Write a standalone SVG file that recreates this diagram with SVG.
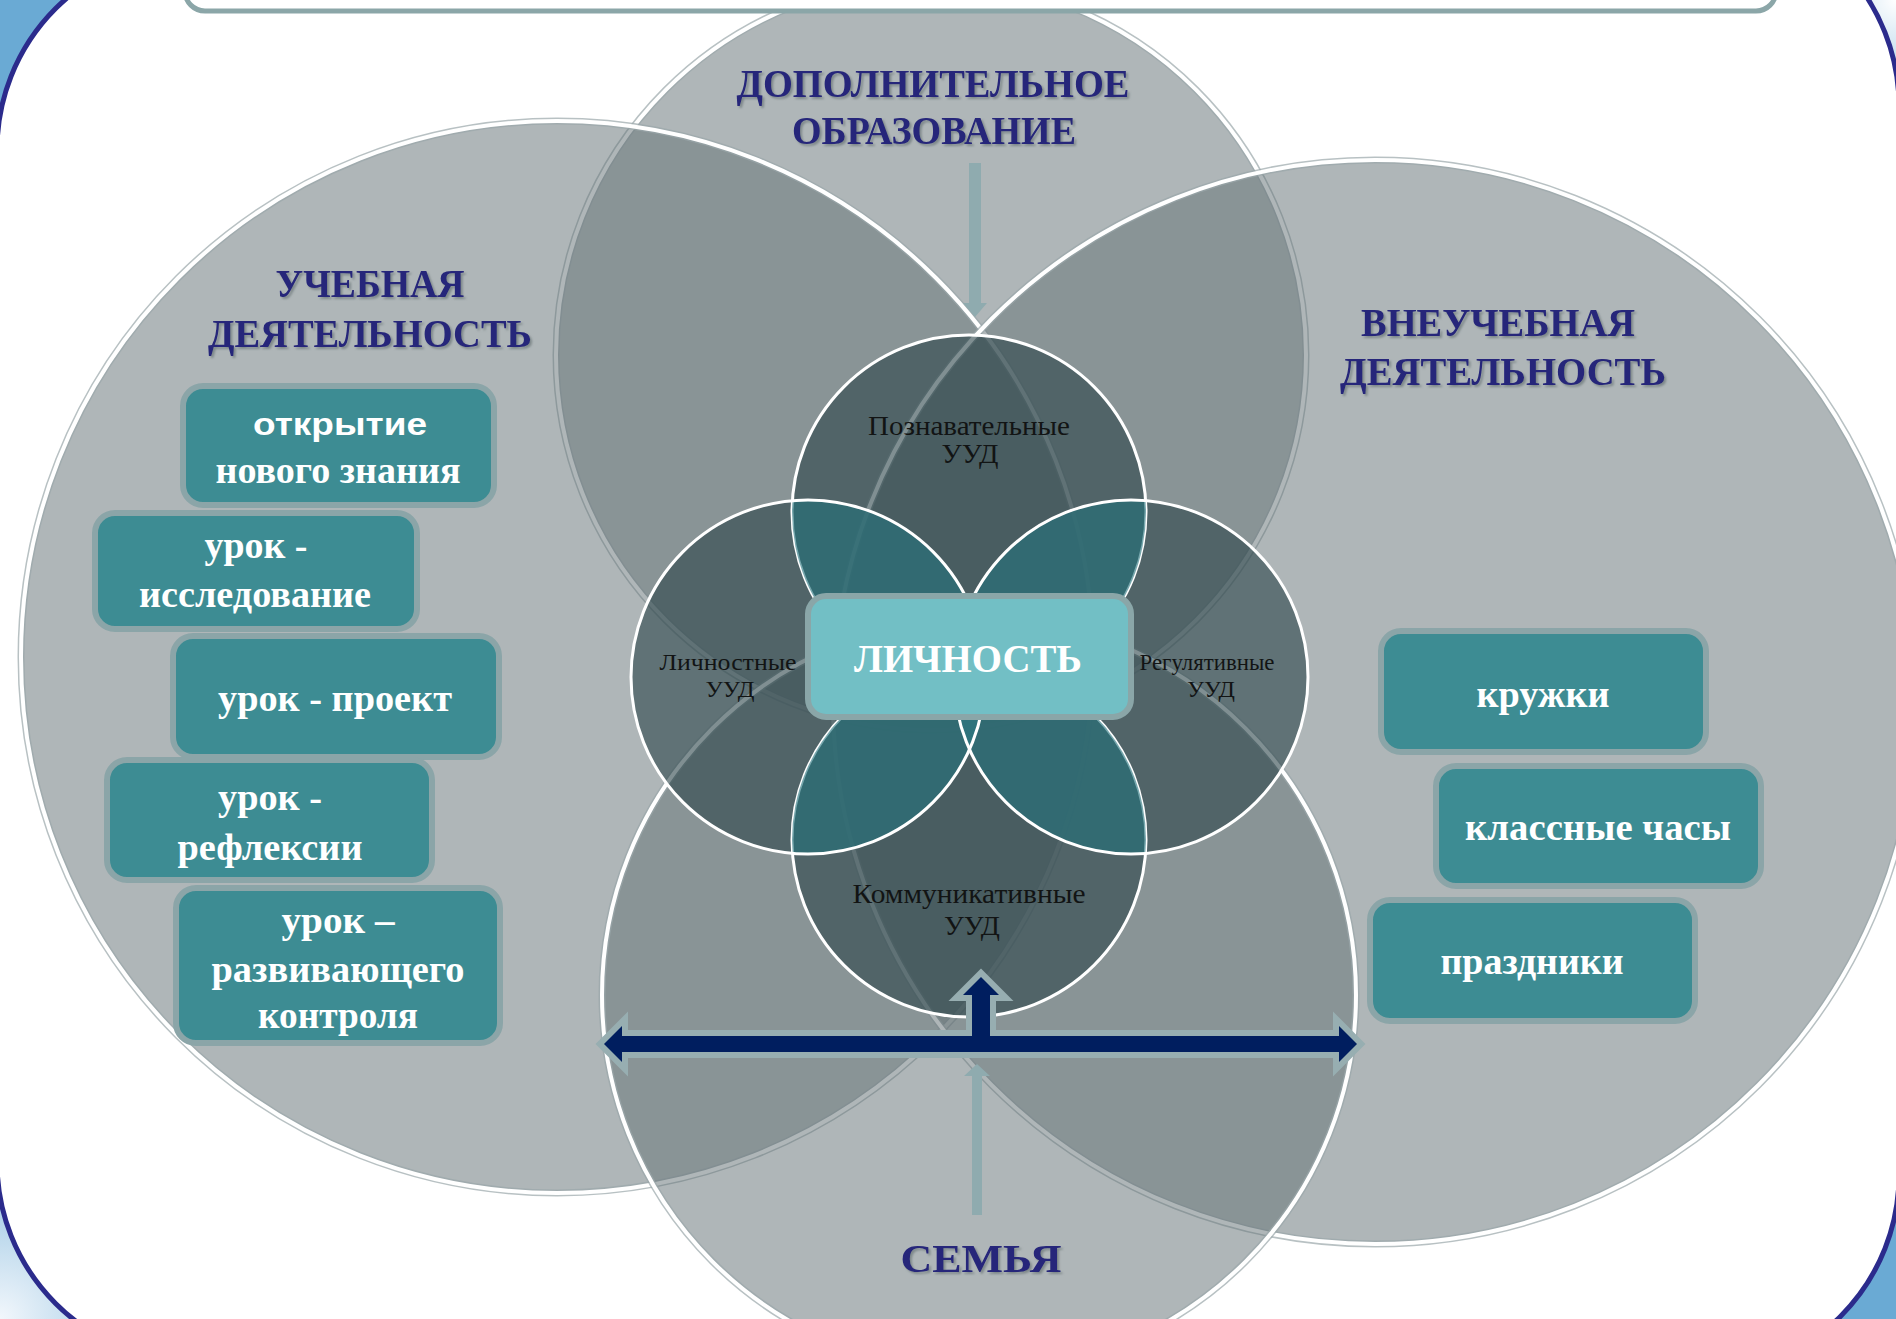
<svg xmlns="http://www.w3.org/2000/svg" width="1896" height="1319" viewBox="0 0 1896 1319">
<defs>
<style>
.big{fill:#677578;fill-opacity:.53}
.rimo{fill:none;stroke:#9aa7aa;stroke-opacity:.7;stroke-width:7}
.rim{fill:none;stroke:#ffffff;stroke-width:4}
.pet{fill:#2c4549;fill-opacity:.6}
.prim{fill:none;stroke:#ffffff;stroke-width:3}
.lens{fill:#2f7983;fill-opacity:.65}
.box{fill:#3d8c93;stroke:#8ba5a8;stroke-width:6}
.bt{font-family:"Liberation Serif","Times New Roman",serif;font-weight:bold;fill:#ffffff;text-anchor:middle;font-size:37px}
.bs{font-family:"Liberation Sans",Arial,sans-serif;font-weight:bold;fill:#ffffff;text-anchor:middle;font-size:32px}
.title{font-family:"Liberation Serif","Times New Roman",serif;font-weight:bold;fill:#25257a;text-anchor:middle;font-size:39px}
.pl{font-family:"Liberation Serif","Times New Roman",serif;fill:#121414;text-anchor:middle}
.la{fill:#8fabaf}
</style>
<filter id="sh" x="-10%" y="-30%" width="120%" height="160%">
<feDropShadow dx="2" dy="2" stdDeviation="1" flood-color="#5d6a6d" flood-opacity=".6"/>
</filter>
<radialGradient id="gBL" cx="0" cy="1319" r="220" gradientUnits="userSpaceOnUse">
<stop offset="0" stop-color="#f2f7fc"/>
<stop offset="1" stop-color="#f2f7fc" stop-opacity="0"/>
</radialGradient>
<radialGradient id="gTR" cx="1896" cy="0" r="160" gradientUnits="userSpaceOnUse">
<stop offset="0" stop-color="#ffffff"/>
<stop offset="1" stop-color="#ffffff" stop-opacity="0"/>
</radialGradient>
<clipPath id="cT"><circle cx="969" cy="512" r="177"/></clipPath>
<clipPath id="cB"><circle cx="969" cy="840" r="177"/></clipPath>
</defs>

<g id="background">
<rect x="0" y="0" width="1896" height="1319" fill="#6aaad4"/>
<rect x="0" y="0" width="1896" height="1319" fill="url(#gBL)"/>
<rect x="0" y="0" width="1896" height="1319" fill="url(#gTR)"/>
<path d="M -3,150 A 200,200 0 0 1 197,-50 L 1699,-94 A 200,200 0 0 1 1899,106 L 1899,1175 A 200,200 0 0 1 1699,1375 L 197,1362 A 200,200 0 0 1 -3,1162 Z" fill="#ffffff" stroke="#2b2b8c" stroke-width="5"/>
</g>

<g id="circle-dop">
<circle class="big" cx="931" cy="355" r="375"/>
<circle class="rimo" cx="931" cy="355" r="375"/>
<circle class="rim" cx="931" cy="355" r="375"/>
</g>
<g id="circle-ucheb">
<circle class="big" cx="557" cy="657" r="536"/>
<circle class="rimo" cx="557" cy="657" r="536"/>
<circle class="rim" cx="557" cy="657" r="536"/>
</g>
<g id="circle-vneucheb">
<circle class="big" cx="1375" cy="702" r="542"/>
<circle class="rimo" cx="1375" cy="702" r="542"/>
<circle class="rim" cx="1375" cy="702" r="542"/>
</g>
<g id="circle-semya">
<circle class="big" cx="979" cy="995" r="377"/>
<circle class="rimo" cx="979" cy="995" r="377"/>
<circle class="rim" cx="979" cy="995" r="377"/>
</g>

<g id="top-banner">
<rect x="185" y="-40" width="1591" height="51" rx="20" fill="#ffffff" stroke="#8ba6a8" stroke-width="5"/>
</g>

<g id="petals">
<g id="petal-pozn"><circle class="pet" cx="969" cy="512" r="177"/></g>
<g id="petal-lichn"><circle class="pet" cx="808" cy="677" r="177"/></g>
<g id="petal-regul"><circle class="pet" cx="1131" cy="677" r="177"/></g>
<g id="petal-komm"><circle class="pet" cx="969" cy="840" r="177"/></g>
<circle class="prim" cx="969" cy="512" r="177"/>
<circle class="prim" cx="969" cy="840" r="177"/>
<circle class="lens" cx="808" cy="677" r="177" clip-path="url(#cT)"/>
<circle class="lens" cx="1131" cy="677" r="177" clip-path="url(#cT)"/>
<circle class="lens" cx="808" cy="677" r="177" clip-path="url(#cB)"/>
<circle class="lens" cx="1131" cy="677" r="177" clip-path="url(#cB)"/>
<circle class="prim" cx="808" cy="677" r="177"/>
<circle class="prim" cx="1131" cy="677" r="177"/>
<text class="pl" font-size="27" x="969" y="435" textLength="202" lengthAdjust="spacingAndGlyphs">Познавательные</text>
<text class="pl" font-size="27" x="970" y="463" textLength="57" lengthAdjust="spacingAndGlyphs">УУД</text>
<text class="pl" font-size="24" x="728" y="670" textLength="137" lengthAdjust="spacingAndGlyphs">Личностные</text>
<text class="pl" font-size="24" x="730" y="697" textLength="49" lengthAdjust="spacingAndGlyphs">УУД</text>
<text class="pl" font-size="24" x="1207" y="670" textLength="135" lengthAdjust="spacingAndGlyphs">Регулятивные</text>
<text class="pl" font-size="24" x="1211" y="697" textLength="48" lengthAdjust="spacingAndGlyphs">УУД</text>
<text class="pl" font-size="28" x="969" y="903" textLength="233" lengthAdjust="spacingAndGlyphs">Коммуникативные</text>
<text class="pl" font-size="28" x="972" y="935" textLength="56" lengthAdjust="spacingAndGlyphs">УУД</text>
</g>

<g id="connectors">
<path class="la" d="M969,163 L981,163 L981,303 L987,303 L975,317 L963,303 L969,303 Z"/>
<path class="la" d="M972,1215 L972,1076 L964,1076 L977,1064 L990,1076 L982,1076 L982,1215 Z"/>
<path d="M604,1044 L622,1026 L622,1036 L972,1036 L972,995 L963,995 L981,977 L999,995 L990,995 L990,1036 L1339,1036 L1339,1026 L1357,1044 L1339,1062 L1339,1052 L622,1052 L622,1062 Z" fill="#001e5f" stroke="#97aeb1" stroke-width="12" stroke-linejoin="miter" paint-order="stroke"/>
</g>

<g id="node-lichnost">
<rect x="808" y="596" width="323" height="121" rx="18" fill="#72bfc5" stroke="#8aa6a8" stroke-width="6"/>
<text x="968" y="672" font-family="Liberation Serif, serif" font-weight="bold" font-size="40" fill="#ffffff" text-anchor="middle" textLength="228" lengthAdjust="spacingAndGlyphs">ЛИЧНОСТЬ</text>
</g>

<g id="titles" filter="url(#sh)">
<text class="title" x="933" y="97" fill="#10104e" textLength="393" lengthAdjust="spacingAndGlyphs">ДОПОЛНИТЕЛЬНОЕ</text>
<text class="title" x="934" y="144" fill="#10104e" textLength="284" lengthAdjust="spacingAndGlyphs">ОБРАЗОВАНИЕ</text>
<text class="title" x="370" y="297" textLength="189" lengthAdjust="spacingAndGlyphs">УЧЕБНАЯ</text>
<text class="title" x="370" y="347" textLength="324" lengthAdjust="spacingAndGlyphs">ДЕЯТЕЛЬНОСТЬ</text>
<text class="title" x="1498" y="336" textLength="274" lengthAdjust="spacingAndGlyphs">ВНЕУЧЕБНАЯ</text>
<text class="title" x="1503" y="385" textLength="326" lengthAdjust="spacingAndGlyphs">ДЕЯТЕЛЬНОСТЬ</text>
<text class="title" x="981" y="1272" font-size="44" fill="#2a2a96" textLength="161" lengthAdjust="spacingAndGlyphs">СЕМЬЯ</text>
</g>

<g id="node-otkrytie">
<rect class="box" x="183" y="386" width="311" height="119" rx="20"/>
<text class="bs" x="340" y="435" textLength="174" lengthAdjust="spacingAndGlyphs">открытие</text>
<text class="bt" x="338" y="483" textLength="245" lengthAdjust="spacingAndGlyphs">нового знания</text>
</g>
<g id="node-issledovanie">
<rect class="box" x="95" y="513" width="322" height="116" rx="20"/>
<text class="bt" x="256" y="558" textLength="103" lengthAdjust="spacingAndGlyphs">урок -</text>
<text class="bt" x="255" y="607" textLength="232" lengthAdjust="spacingAndGlyphs">исследование</text>
</g>
<g id="node-proekt">
<rect class="box" x="173" y="636" width="326" height="121" rx="20"/>
<text class="bt" x="335" y="711" textLength="234" lengthAdjust="spacingAndGlyphs">урок - проект</text>
</g>
<g id="node-refleksii">
<rect class="box" x="107" y="760" width="325" height="120" rx="20"/>
<text class="bt" x="270" y="810" textLength="104" lengthAdjust="spacingAndGlyphs">урок -</text>
<text class="bt" x="270" y="860" textLength="185" lengthAdjust="spacingAndGlyphs">рефлексии</text>
</g>
<g id="node-kontrol">
<rect class="box" x="176" y="888" width="324" height="155" rx="20"/>
<text class="bt" x="338" y="933" textLength="113" lengthAdjust="spacingAndGlyphs">урок –</text>
<text class="bt" x="338" y="982" textLength="253" lengthAdjust="spacingAndGlyphs">развивающего</text>
<text class="bt" x="338" y="1028" textLength="160" lengthAdjust="spacingAndGlyphs">контроля</text>
</g>

<g id="node-kruzhki">
<rect class="box" x="1381" y="631" width="325" height="121" rx="20"/>
<text class="bt" x="1543" y="707" font-size="40" textLength="133" lengthAdjust="spacingAndGlyphs">кружки</text>
</g>
<g id="node-klassnye">
<rect class="box" x="1436" y="766" width="325" height="120" rx="20"/>
<text class="bt" x="1598" y="840" font-size="40" textLength="266" lengthAdjust="spacingAndGlyphs">классные часы</text>
</g>
<g id="node-prazdniki">
<rect class="box" x="1370" y="900" width="325" height="121" rx="20"/>
<text class="bt" x="1532" y="974" font-size="40" textLength="183" lengthAdjust="spacingAndGlyphs">праздники</text>
</g>
</svg>
